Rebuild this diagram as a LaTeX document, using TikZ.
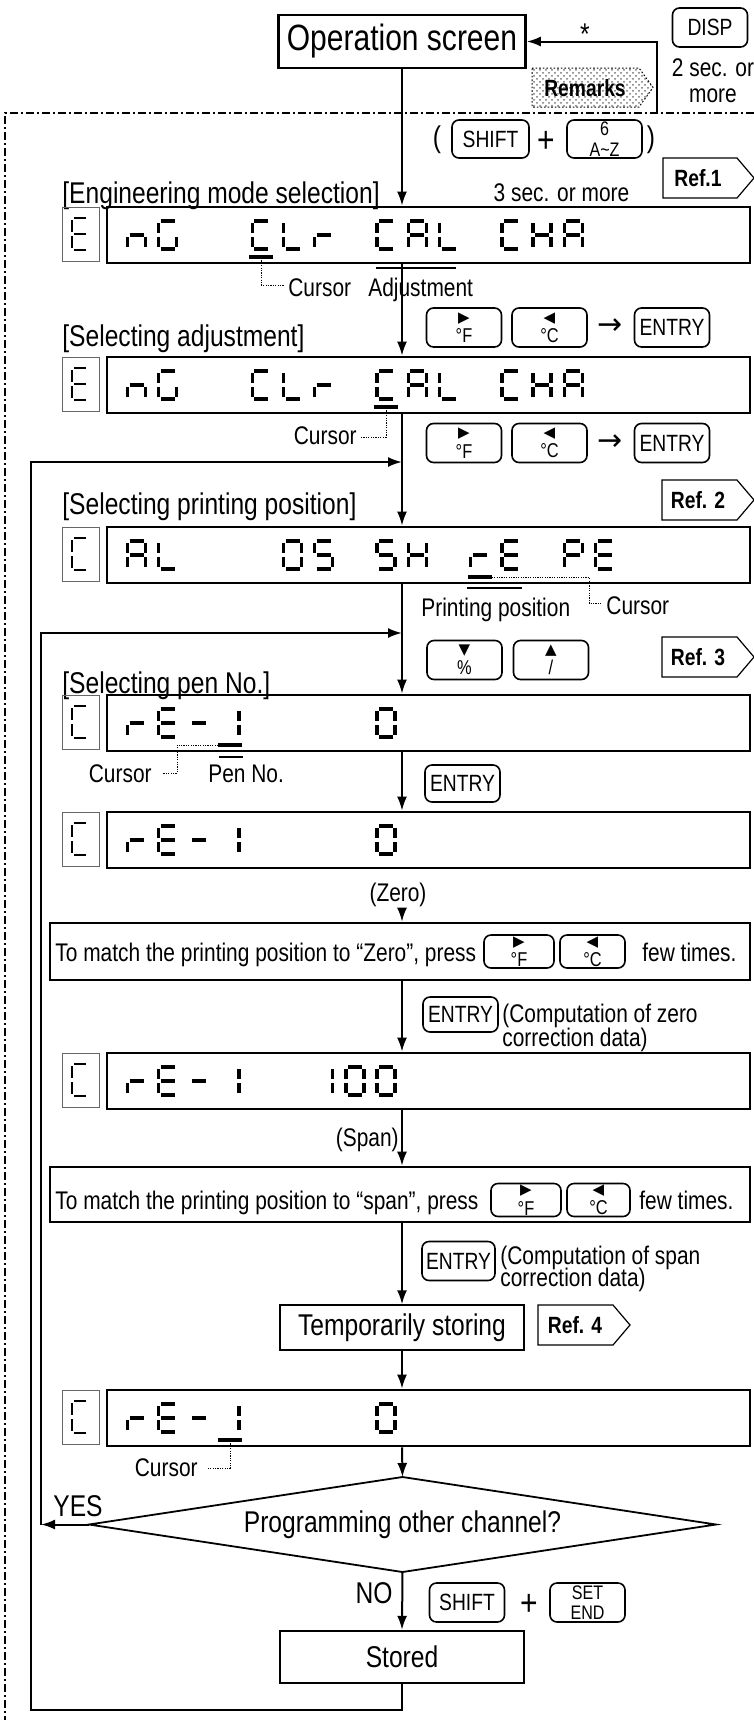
\documentclass[tikz,border=0pt]{standalone}
\usepackage{fontspec}
\setmainfont{Liberation Sans}[FakeStretch=0.82]
\newfontfamily\symf{DejaVu Sans}
\usetikzlibrary{arrows.meta,shapes.geometric,patterns}
\newcommand\fsBig{\fontsize{18.3pt}{20pt}\selectfont}
\newcommand\fsMid{\fontsize{15pt}{17pt}\selectfont}
\newcommand\fsSm{\fontsize{12.75pt}{12pt}\selectfont}
\newcommand\fsKey{\fontsize{11.75pt}{12pt}\selectfont}
\newcommand\fsTiny{\fontsize{9.8pt}{10.2pt}\selectfont}
\newcommand\ktri[2]{{\symf\fontsize{7.5pt}{7.5pt}\selectfont #1}\\[-1.8pt]{\fontsize{10pt}{10pt}\selectfont #2}}
% seven segment glyphs
\newcommand\segglyph[5]{\def\SGx{#1}\def\SGy{#2}\def\SGw{#3}\def\SGh{#4}\foreach \s in {#5}{\csname SSeg\s\endcsname}}
\def\SSega{\draw[seg] (\SGx+2,\SGy) -- (\SGx+\SGw-2,\SGy);}
\def\SSegb{\draw[seg] (\SGx+\SGw,\SGy+2) -- (\SGx+\SGw,\SGy+\SGh/2-2);}
\def\SSegc{\draw[seg] (\SGx+\SGw,\SGy+\SGh/2+2) -- (\SGx+\SGw,\SGy+\SGh-2);}
\def\SSegd{\draw[seg] (\SGx+2,\SGy+\SGh) -- (\SGx+\SGw-2,\SGy+\SGh);}
\def\SSege{\draw[seg] (\SGx,\SGy+\SGh/2+2) -- (\SGx,\SGy+\SGh-2);}
\def\SSegf{\draw[seg] (\SGx,\SGy+2) -- (\SGx,\SGy+\SGh/2-2);}
\def\SSegg{\draw[seg] (\SGx+2,\SGy+\SGh/2) -- (\SGx+\SGw-2,\SGy+\SGh/2);}
\newcommand\lcg[3]{\pgfmathsetmacro\lcgx{127.5+31.2*#1}\segglyph{\lcgx}{#2}{18}{28}{#3}}
\newcommand\smglyph[2]{\begin{scope}[seg/.style={line width=0.7pt}]\segglyph{72}{#1}{16}{32}{#2}\end{scope}}

\begin{document}
\begin{tikzpicture}[x=0.5pt,y=-0.5pt,
  ln/.style={line width=1pt},
  flow/.style={line width=1pt,-{Latex[length=7pt,width=5pt]}},
  lcd/.style={draw,line width=1.4pt,minimum width=321.5pt,minimum height=28pt,inner sep=0pt},
  sbox/.style={draw=black!60,line width=0.5pt,minimum width=18.5pt,minimum height=27pt,inner sep=0pt},
  key/.style={draw,rounded corners=3.5pt,line width=0.8pt,minimum width=37.5pt,minimum height=19.5pt,inner sep=0pt,align=center,font=\fsKey},
  ikey/.style={key,minimum width=35pt,minimum height=16.5pt},
  tagl/.style={draw,line width=0.6pt},
  tagt/.style={inner sep=0pt,font=\fsKey\bfseries},
  seg/.style={line width=1.75pt},
  cur/.style={line width=1.6pt},
  ovl/.style={line width=1.2pt},
  lead/.style={line width=0.45pt,dash pattern=on 0.6pt off 0.6pt},
  mid/.style={inner sep=0pt,font=\fsMid},
  sm/.style={inner sep=0pt,font=\fsSm},
  pbox/.style={draw,line width=1.3pt,inner sep=0pt,font=\fsSm}
]
\fill[white] (0,0) rectangle (754,1720);
\useasboundingbox (0,0) rectangle (754,1720);
\coordinate (mx) at (402,0);

% top
\node[draw,line width=1.3pt,minimum width=123.5pt,minimum height=26.5pt,inner sep=0pt,font=\fsBig] (op) at (402,41.5) {Operation screen};
\node[inner sep=0pt,font=\fontsize{15pt}{15pt}\selectfont,anchor=base] (ast) at (585,44) {*};
\node[key] (disp) at (710,27.5) {DISP};
\node[sm,anchor=base] (sec2) at (713,76) {2 sec. or};
\node[sm,anchor=base] (more2) at (713,102) {more};
\draw[pattern=crosshatch dots,pattern color=black!55,draw=black,line width=0.5pt,dash pattern=on 0.8pt off 1pt] (532,68) -- (639,68) -- (653,87.5) -- (639,107) -- (532,107) -- cycle;
\node[tagt,anchor=base] (rem) at (585,96.5) {Remarks};
\coordinate (dt) at (657,113);
\draw[flow] (dt) |- (op.east);
\draw[line width=0.6pt,dash pattern=on 4pt off 1.5pt on 1pt off 1.5pt] (754,113) -- (5,113) -- (5,1720);

% keys SHIFT + 6
\node[mid,anchor=base] (lp) at (437,147) {(};
\node[key,minimum width=38.5pt,minimum height=19pt] (sh1) at (490.5,139) {SHIFT};
\node[inner sep=0pt,font=\fsBig,anchor=base] (pl1) at (546,152) {+};
\node[key,minimum height=19pt,font=\fsTiny] (az) at (604.5,139) {6\\A\textasciitilde Z};
\node[mid,anchor=base] (rp) at (651,147) {)};
\draw[tagl] (663,158) -- (737,158) -- (754,178) -- (737,198) -- (663,198) -- cycle;
\node[tagt,anchor=base] (ref1) at (698,186.5) {Ref.1};
\node[sm,anchor=base] (s3) at (561.5,201) {3 sec. or more};
\node[mid,anchor=base west] (t1) at (62,203) {[Engineering mode selection]};

% LCD 1
\node[sbox] (l1s) at (80.5,234) {};
\node[lcd] (l1) at (428.5,235) {};
\smglyph{218}{a,d,e,f,g}
\lcg{0}{221}{c,e,g}\lcg{1}{221}{a,c,d,e,f}
\lcg{4}{221}{a,d,e,f}\lcg{5}{221}{d,e,f}\lcg{6}{221}{e,g}
\lcg{8}{221}{a,d,e,f}\lcg{9}{221}{a,b,c,e,f,g}\lcg{10}{221}{d,e,f}
\lcg{12}{221}{a,d,e,f}\lcg{13}{221}{b,c,e,f,g}\lcg{14}{221}{a,b,c,e,f,g}
\draw[cur] (249.3,257) -- (273.3,257);
\draw[lead] (261.3,258) -- (261.3,285) -- (284,285);
\node[sm,anchor=base west] (c1) at (288,296) {Cursor};
\draw[ovl] (376,268) -- (456,268);
\node[sm,anchor=base west] (adj) at (368,296) {Adjustment};

% keys row 1
\node[key] (f1) at (464,327.5) {\ktri{▶}{°F}};
\node[key] (c1k) at (549.5,327.5) {\ktri{◀}{°C}};
\node[inner sep=0pt,anchor=base,font=\symf\fsMid] (ar1) at (610,334) {→};
\node[key] (e1) at (672,327.5) {ENTRY};
\node[mid,anchor=base west] (t2) at (62,346) {[Selecting adjustment]};

% LCD 2
\node[sbox] (l2s) at (80.5,384) {};
\node[lcd] (l2) at (428.5,385) {};
\smglyph{368}{a,d,e,f,g}
\lcg{0}{371}{c,e,g}\lcg{1}{371}{a,c,d,e,f}
\lcg{4}{371}{a,d,e,f}\lcg{5}{371}{d,e,f}\lcg{6}{371}{e,g}
\lcg{8}{371}{a,d,e,f}\lcg{9}{371}{a,b,c,e,f,g}\lcg{10}{371}{d,e,f}
\lcg{12}{371}{a,d,e,f}\lcg{13}{371}{b,c,e,f,g}\lcg{14}{371}{a,b,c,e,f,g}
\draw[cur] (374.1,407) -- (398.1,407);
\draw[lead] (386,408) -- (386,437) -- (361,437);
\node[sm,anchor=base east] (c2) at (357,444) {Cursor};

% keys row 2
\node[key] (f2) at (464,443) {\ktri{▶}{°F}};
\node[key] (c2k) at (549.5,443) {\ktri{◀}{°C}};
\node[inner sep=0pt,anchor=base,font=\symf\fsMid] (ar2) at (610,450) {→};
\node[key] (e2) at (672,443) {ENTRY};

\draw[tagl] (662,480) -- (737,480) -- (754,500) -- (737,520) -- (662,520) -- cycle;
\node[tagt,anchor=base] (ref2) at (698,508.5) {Ref. 2};
\node[mid,anchor=base west] (t3) at (62,514) {[Selecting printing position]};

% LCD 3
\node[sbox] (l3s) at (80.5,554) {};
\node[lcd] (l3) at (428.5,555) {};
\smglyph{538}{a,d,e,f}
\lcg{0}{541}{a,b,c,e,f,g}\lcg{1}{541}{d,e,f}
\lcg{5}{541}{a,b,c,d,e,f}\lcg{6}{541}{a,c,d,f,g}
\lcg{8}{541}{a,c,d,f,g}\lcg{9}{541}{b,c,e,f,g}
\lcg{11}{541}{e,g}\lcg{12}{541}{a,d,e,f,g}
\lcg{14}{541}{a,b,e,f,g}\lcg{15}{541}{a,d,e,f,g}
\draw[cur] (467.7,577) -- (491.7,577);
\draw[lead] (491.7,577) -- (589,577) -- (589,603) -- (601,603);
\node[sm,anchor=base west] (c3) at (606,614) {Cursor};
\draw[ovl] (467,588) -- (522,588);
\node[sm,anchor=base west] (pp) at (421,616) {Printing position};

% keys row 3
\node[key] (dn) at (464.5,660) {\ktri{▼}{\%}};
\node[key] (up) at (551,660) {\ktri{▲}{/}};
\draw[tagl] (662,637) -- (737,637) -- (754,657) -- (737,677) -- (662,677) -- cycle;
\node[tagt,anchor=base] (ref3) at (698,665.5) {Ref. 3};
\node[mid,anchor=base west] (t4) at (62,693) {[Selecting pen No.]};

% LCD 4
\node[sbox] (l4s) at (80.5,722) {};
\node[lcd] (l4) at (428.5,723) {};
\smglyph{706}{a,d,e,f}
\lcg{0}{709}{e,g}\lcg{1}{709}{a,d,e,f,g}\lcg{2}{709}{g}\lcg{3}{709}{b,c}\lcg{8}{709}{a,b,c,d,e,f}
\draw[cur] (218.1,745) -- (242.1,745);
\draw[lead] (218.1,745) -- (177,745) -- (177,773) -- (163,773);
\node[sm,anchor=base east] (c4) at (152,782) {Cursor};
\draw[ovl] (219,757) -- (243,757);
\node[sm,anchor=base west] (pen) at (208,782) {Pen No.};
\node[key,minimum height=18.5pt] (e3) at (462.5,783.5) {ENTRY};

% LCD 5
\node[sbox] (l5s) at (80.5,839) {};
\node[lcd] (l5) at (428.5,840) {};
\smglyph{823}{a,d,e,f}
\lcg{0}{826}{e,g}\lcg{1}{826}{a,d,e,f,g}\lcg{2}{826}{g}\lcg{3}{826}{b,c}\lcg{8}{826}{a,b,c,d,e,f}
\node[sm,anchor=base] (zt) at (398,901) {(Zero)};

% zero box
\node[pbox,minimum width=350pt,minimum height=28.5pt] (zb) at (400,951.5) {};
\node[sm,anchor=base west] (ztx) at (55,961) {To match the printing position to “Zero”, press};
\node[ikey] (zf) at (519,951.5) {\ktri{▶}{°F}};
\node[ikey,minimum width=32.5pt] (zc) at (592.5,951.5) {\ktri{◀}{°C}};
\node[sm,anchor=base west] (zft) at (642,961) {few times.};
\node[key,minimum height=17.5pt] (e4) at (460.5,1014.5) {ENTRY};
\node[sm,anchor=base west] (cz1) at (502,1022) {(Computation of zero};
\node[sm,anchor=base west] (cz2) at (502,1046) {correction data)};

% LCD 6
\node[sbox] (l6s) at (80.5,1080) {};
\node[lcd] (l6) at (428.5,1081) {};
\smglyph{1064}{a,d,e,f}
\lcg{0}{1067}{e,g}\lcg{1}{1067}{a,d,e,f,g}\lcg{2}{1067}{g}\lcg{3}{1067}{b,c}
\lcg{6}{1067}{b,c}\lcg{7}{1067}{a,b,c,d,e,f}\lcg{8}{1067}{a,b,c,d,e,f}
\node[sm,anchor=base east] (spt) at (399,1146) {(Span)};

% span box
\node[pbox,minimum width=350pt,minimum height=27.5pt] (sb) at (400,1194.5) {};
\node[sm,anchor=base west] (stx) at (55,1209) {To match the printing position to “span”, press};
\node[ikey] (sf) at (526,1200) {\ktri{▶}{°F}};
\node[ikey,minimum width=31.5pt] (sc) at (598.5,1200) {\ktri{◀}{°C}};
\node[sm,anchor=base west] (sft) at (639,1209) {few times.};
\node[key,minimum width=36.5pt] (e5) at (458.5,1261) {ENTRY};
\node[sm,anchor=base west] (cs1) at (500,1264) {(Computation of span};
\node[sm,anchor=base west] (cs2) at (500,1286) {correction data)};

% temporarily storing
\node[draw,line width=0.7pt,minimum width=122pt,minimum height=22.5pt,inner sep=0pt,font=\fsMid] (ts) at (402,1327.5) {Temporarily storing};
\draw[tagl] (538,1305) -- (613,1305) -- (630,1325) -- (613,1345) -- (538,1345) -- cycle;
\node[tagt,anchor=base] (ref4) at (575,1333.5) {Ref. 4};

% LCD 7
\node[sbox] (l7s) at (80.5,1417) {};
\node[lcd] (l7) at (428.5,1418) {};
\smglyph{1401}{a,d,e,f}
\lcg{0}{1404}{e,g}\lcg{1}{1404}{a,d,e,f,g}\lcg{2}{1404}{g}\lcg{3}{1404}{b,c}\lcg{8}{1404}{a,b,c,d,e,f}
\draw[cur] (218.1,1440) -- (242.1,1440);
\draw[lead] (230,1441) -- (230,1468) -- (207,1468);
\node[sm,anchor=base east] (c7) at (198,1476) {Cursor};

% decision
\coordinate (dN) at (402.5,1477);
\coordinate (dS) at (402.5,1572);
\coordinate (dW) at (89,1524.5);
\coordinate (dE) at (716,1524.5);
\draw[line width=0.9pt] (dN) -- (dE) -- (dS) -- (dW) -- cycle;
\node[mid] (dia) at (402.5,1524.5) {Programming other channel?};
\node[mid,anchor=base west] (yes) at (53,1516) {YES};
\node[mid,anchor=base east] (no) at (393,1603) {NO};
\node[key] (sh2) at (467,1602.5) {SHIFT};
\node[inner sep=0pt,font=\fsBig,anchor=base] (pl2) at (529,1615) {+};
\node[key,font=\fsTiny] (se) at (587.5,1602.5) {SET\\END};
\node[draw,line width=1.2pt,minimum width=122pt,minimum height=26pt,inner sep=0pt,font=\fsMid] (st) at (402,1657) {Stored};

% connectors
\coordinate (j1) at (402,462);
\coordinate (j2) at (402,633);
\coordinate (ob) at (31,1710);
\coordinate (ib) at (41,1524.5);
\draw[flow] (op.south) -- (mx |- l1.north);
\draw[flow] (mx |- l1.south) -- (mx |- l2.north);
\draw[flow] (mx |- l2.south) -- (mx |- l3.north);
\draw[flow] (mx |- l3.south) -- (mx |- l4.north);
\draw[flow] (mx |- l4.south) -- (mx |- l5.north);
\draw[flow] (mx |- zt.south) ++(0,2) -- (mx |- zb.north);
\draw[flow] (mx |- zb.south) -- (mx |- l6.north);
\draw[flow] (mx |- l6.south) -- (mx |- sb.north);
\draw[flow] (mx |- sb.south) -- (ts.north);
\draw[flow] (ts.south) -- (mx |- l7.north);
\draw[flow] (mx |- l7.south) -- (dN);
\draw[flow] (dS) -- (st.north);
\draw[flow] (st.south) -- (st.south |- ob) -- (ob) -- (ob |- j1) -- (j1);
\draw[flow] (dW) -- (ib);
\draw[flow] (ib) -- (ib |- j2) -- (j2);
\end{tikzpicture}
\end{document}
